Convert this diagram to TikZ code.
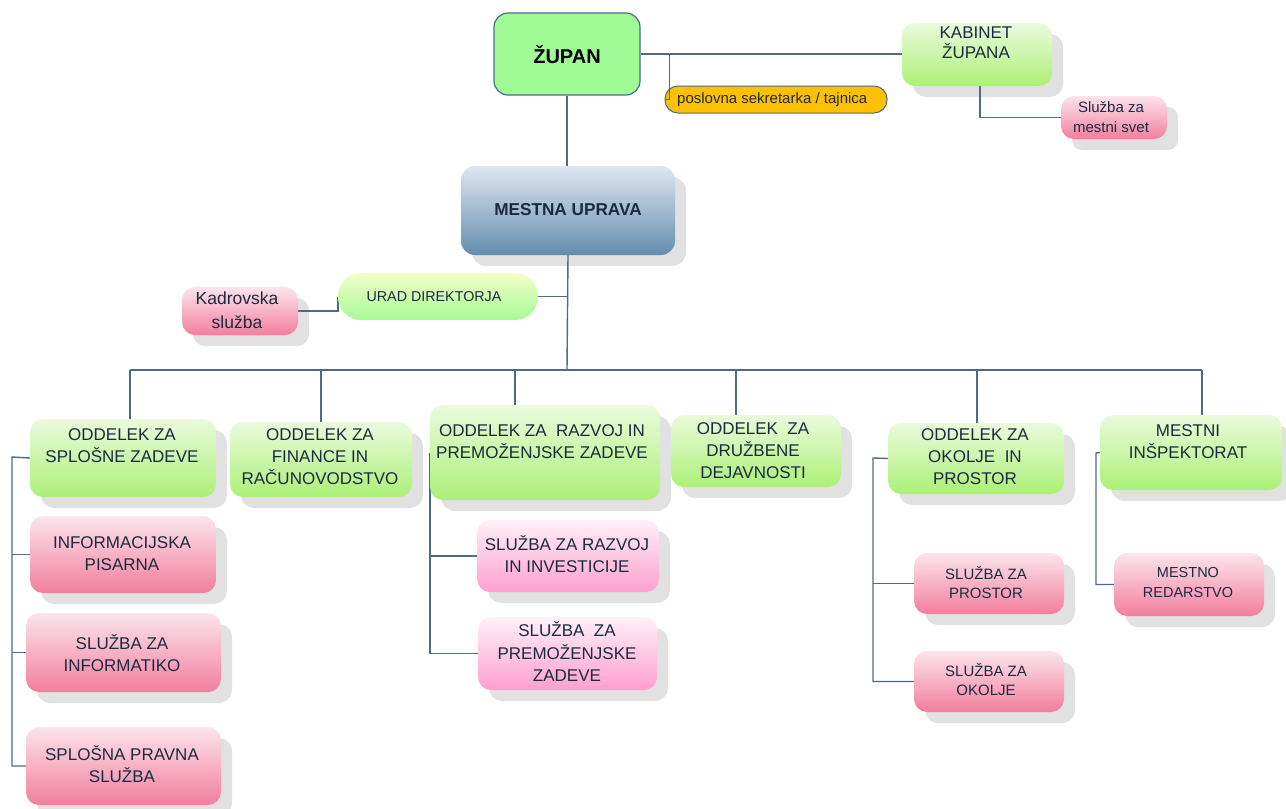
\documentclass[tikz,border=0pt]{standalone}
\usepackage{fontspec}
\setmainfont{Liberation Sans}
\usetikzlibrary{fit,calc}
\pgfdeclarelayer{shad}
\pgfdeclarelayer{bg}
\pgfsetlayers{shad,bg,main}
\definecolor{txtc}{RGB}{28,42,63}
\definecolor{linec}{RGB}{78,106,133}
\definecolor{shadc}{RGB}{225,225,225}
\definecolor{gtop}{RGB}{234,251,220}
\definecolor{gbot}{RGB}{172,240,118}
\definecolor{ptop}{RGB}{252,228,236}
\definecolor{pbot}{RGB}{242,126,158}
\definecolor{mtop}{RGB}{255,240,248}
\definecolor{mbot}{RGB}{255,160,205}
\definecolor{ztop}{RGB}{160,250,150}
\definecolor{utop}{RGB}{222,230,241}
\definecolor{ubot}{RGB}{100,140,175}
\definecolor{rtop}{RGB}{242,255,200}
\definecolor{rbot}{RGB}{165,250,150}
\definecolor{secc}{RGB}{255,192,0}
\newcommand\fsz[2]{\fontsize{#1}{#2}\selectfont}
\newcommand\obox[7]{%
  \begin{pgfonlayer}{shad}
    \fill[shadc, rounded corners=#7] (#3+11,#4+11) rectangle (#5+11,#6+11);
  \end{pgfonlayer}
  \node[#2, fit={(#3,#4) (#5,#6)}] (#1) {};}
\newcommand\nbox[6]{%
  \node[#2, fit={(#3,#4) (#5,#6)}] (#1) {};}
\tikzset{
  conn/.style={draw=linec, line width=1.4},
  gbox/.style={rounded corners=13, top color=gtop, bottom color=gbot, draw=none, inner sep=0},
  pbox/.style={rounded corners=13, top color=ptop, bottom color=pbot, draw=none, inner sep=0},
  mbox/.style={rounded corners=13, top color=mtop, bottom color=mbot, draw=none, inner sep=0},
  zbox/.style={rounded corners=14, fill=ztop, draw=linec, line width=1.2, inner sep=0},
  ubox/.style={rounded corners=14, top color=utop, bottom color=ubot, draw=none, inner sep=0},
  rbox/.style={rounded corners=23, top color=rtop, bottom color=rbot, draw=none, inner sep=0},
  secbox/.style={rounded corners=13, fill=secc, draw=linec, line width=1, inner sep=0},
  txt/.style={text=txtc, align=center, inner sep=0},
}
\begin{document}
\begin{tikzpicture}[x=1pt,y=-1pt]
\useasboundingbox (0,0) rectangle (1286,809);
\clip (0,0) rectangle (1286,809);

% top level
\nbox{zupan}{zbox}{494}{13}{640}{95}
\node[inner sep=0, font=\fsz{20}{24}\bfseries] (zupant) at (567,55) {ŽUPAN};
\obox{kab}{gbox}{902}{23}{1052}{86}{13}
\node[txt, font=\fsz{17}{20}] (kabt) at (976,43) {KABINET\\ŽUPANA};
\nbox{sec}{secbox}{665}{86}{887}{113}
\node[txt, anchor=west, font=\fsz{15}{18}] (sect) at (677,100) {poslovna sekretarka / tajnica};
\obox{svet}{pbox}{1061}{96}{1167}{139}{10}
\node[txt, font=\fsz{15}{20}] (svett) at (1111,117) {Služba za\\mestni svet};

\obox{mu}{ubox}{461}{166}{675}{255}{14}
\node[txt, font=\fsz{17.2}{20}\bfseries] (mut) at (568,210) {MESTNA UPRAVA};
\nbox{urad}{rbox}{338}{273}{538}{320}
\node[txt, font=\fsz{14.3}{18}] (uradt) at (434,297) {URAD DIREKTORJA};
\obox{kad}{pbox}{182}{287}{298}{335}{12}
\node[txt, font=\fsz{17.5}{24}] (kadt) at (237,310) {Kadrovska\\služba};

% departments
\obox{o1}{gbox}{30}{419}{216}{497}{13}
\node[txt, font=\fsz{17}{22}] (o1t) at (122,446) {ODDELEK ZA\\SPLOŠNE ZADEVE};
\obox{s11}{pbox}{30}{516}{216}{593}{13}
\node[txt, font=\fsz{17}{22}] (s11t) at (122,554) {INFORMACIJSKA\\PISARNA};
\obox{s12}{pbox}{26}{613}{221}{692}{13}
\node[txt, font=\fsz{17}{22}] (s12t) at (122,653) {SLUŽBA ZA\\INFORMATIKO};
\obox{s13}{pbox}{26}{727}{221}{805}{13}
\node[txt, font=\fsz{17}{22}] (s13t) at (122,764) {SPLOŠNA PRAVNA\\SLUŽBA};

\obox{o2}{gbox}{230}{422}{412}{497}{13}
\node[txt, font=\fsz{17}{22}] (o2t) at (320,457) {ODDELEK ZA\\FINANCE IN\\RAČUNOVODSTVO};

\obox{o3}{gbox}{430}{405}{660}{500}{14}
\node[txt, font=\fsz{17}{22}] (o3t) at (542,442) {ODDELEK ZA~ RAZVOJ IN\\PREMOŽENJSKE ZADEVE};
\obox{s31}{mbox}{477}{520}{659}{592}{13}
\node[txt, font=\fsz{17}{22}] (s31t) at (567,554) {SLUŽBA ZA RAZVOJ\\IN INVESTICIJE};
\obox{s32}{mbox}{478}{617}{657}{690}{13}
\node[txt, font=\fsz{17}{22.5}] (s32t) at (567,652) {SLUŽBA~ ZA\\PREMOŽENJSKE\\ZADEVE};

\obox{o4}{gbox}{671}{415}{841}{487}{13}
\node[txt, font=\fsz{17}{22}] (o4t) at (753,451) {ODDELEK~ ZA\\DRUŽBENE\\DEJAVNOSTI};

\obox{o5}{gbox}{888}{423}{1064}{494}{13}
\node[txt, font=\fsz{17}{22}] (o5t) at (975,457) {ODDELEK ZA\\OKOLJE~ IN\\PROSTOR};
\obox{s51}{pbox}{914}{553}{1064}{614}{13}
\node[txt, font=\fsz{15}{19}] (s51t) at (986,583) {SLUŽBA ZA\\PROSTOR};
\obox{s52}{pbox}{914}{651}{1064}{712}{13}
\node[txt, font=\fsz{15}{19}] (s52t) at (986,680) {SLUŽBA ZA\\OKOLJE};

\obox{o6}{gbox}{1100}{415}{1282}{490}{14}
\node[txt, font=\fsz{17}{22}] (o6t) at (1188,442) {MESTNI\\INŠPEKTORAT};
\obox{s61}{pbox}{1114}{553}{1264}{616}{13}
\node[txt, font=\fsz{14.5}{20}] (s61t) at (1188,583) {MESTNO\\REDARSTVO};

% connectors
\coordinate (bus) at (567,370);
\coordinate (d1) at (130,370);
\coordinate (d2) at (321,370);
\coordinate (d3) at (515,370);
\coordinate (d4) at (736,370);
\coordinate (d5) at (977,370);
\coordinate (d6) at (1202,370);
\coordinate (l1) at (12,457);
\coordinate (l5) at (873,458);
\coordinate (l6) at (1096,453);
\coordinate (kj) at (980,86);
\coordinate (sj) at (669,55);

\begin{pgfonlayer}{bg}
\draw[conn] (zupan.east) -- (zupan.east -| kab.west);
\draw[conn] (zupan.south) -- (zupan.south |- mu.north);
\draw[conn] (kj) |- (svet.west);
\draw[conn] (mu.south) -- (bus);
\draw[conn] (urad.east) -- (urad.east -| bus);
\draw[conn] (kad.east) -| (urad.west);
\draw[conn] (d1) -- (d6);
\draw[conn] (d1) -- (d1 |- o1.north);
\draw[conn] (d2) -- (d2 |- o2.north);
\draw[conn] (d3) -- (d3 |- o3.north);
\draw[conn] (d4) -- (d4 |- o4.north);
\draw[conn] (d5) -- (d5 |- o5.north);
\draw[conn] (d6) -- (d6 |- o6.north);
\draw[conn] (o1.west) -- (l1) -- (l1 |- s13.west) -- (s13.west);
\draw[conn] (l1 |- s11.west) -- (s11.west);
\draw[conn] (l1 |- s12.west) -- (s12.west);
\draw[conn] (o3.west) -- (o3.west |- s32.west) -- (s32.west);
\draw[conn] (o3.west |- s31.west) -- (s31.west);
\draw[conn] (o5.west) -- (l5) -- (l5 |- s52.west) -- (s52.west);
\draw[conn] (l5 |- s51.west) -- (s51.west);
\draw[conn] (o6.west) -- (l6) -- (l6 |- s61.west) -- (s61.west);
\end{pgfonlayer}
\draw[conn, line width=1] (sj) |- (sec.west);
\end{tikzpicture}
\end{document}
